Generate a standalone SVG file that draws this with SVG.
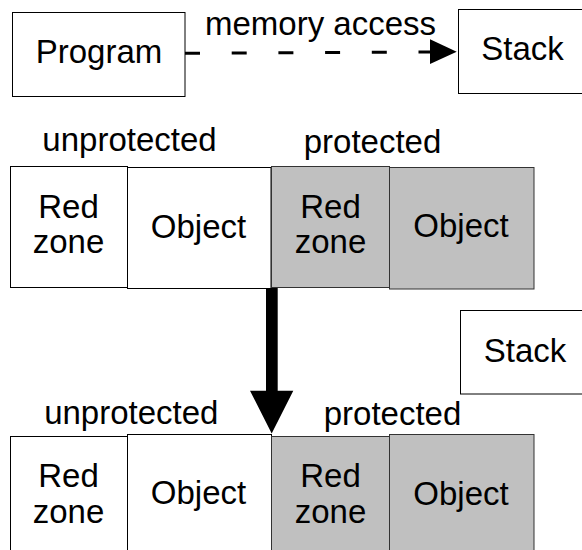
<svg xmlns="http://www.w3.org/2000/svg" width="582" height="550" viewBox="0 0 582 550">
  <style>
    .box { fill: #ffffff; stroke: #000000; stroke-width: 1; }
    .prot { fill: #c0c0c0; stroke: #333333; stroke-width: 1; }
    text { font-family: "Liberation Sans", Arial, sans-serif; font-size: 33px; fill: #000000; text-anchor: middle; }
    .dash { stroke: #000000; stroke-width: 3; stroke-dasharray: 15 31.7; fill: none; }
  </style>
  <rect width="582" height="550" fill="#ffffff"/>

  <!-- top: program accesses the stack -->
  <g id="program">
    <rect class="box" x="12.5" y="12.5" width="172.5" height="84"/>
    <text x="99" y="63">Program</text>
  </g>
  <g id="stack-top">
    <rect class="box" x="458.5" y="9.5" width="131" height="84"/>
    <text x="522.5" y="60">Stack</text>
  </g>

  <!-- memory layout before -->
  <g id="labels-before">
    <text x="129.5" y="151">unprotected</text>
    <text x="372.5" y="153">protected</text>
  </g>
  <g id="redzone-1">
    <rect class="box" x="10.5" y="166.5" width="117" height="121"/>
    <text x="68.5" y="218">Red</text>
    <text x="68.5" y="253">zone</text>
  </g>
  <g id="object-1">
    <rect class="box" x="127.5" y="167.5" width="143.5" height="121"/>
    <text x="198.5" y="238">Object</text>
  </g>
  <g id="redzone-2">
    <rect class="prot" x="271.5" y="166.5" width="118" height="121"/>
    <text x="330.5" y="218">Red</text>
    <text x="330.5" y="253">zone</text>
  </g>
  <g id="object-2">
    <rect class="prot" x="389.5" y="167.5" width="144.5" height="121.5"/>
    <text x="461" y="237">Object</text>
  </g>

  <g id="stack-mid">
    <rect class="box" x="460.5" y="310.5" width="129" height="83.5"/>
    <text x="525" y="362">Stack</text>
  </g>

  <!-- memory layout after -->
  <g id="labels-after">
    <text x="131.3" y="423.5">unprotected</text>
    <text x="392.5" y="425">protected</text>
  </g>
  <g id="redzone-3">
    <rect class="box" x="10.5" y="436.5" width="117" height="130"/>
    <text x="68.5" y="487">Red</text>
    <text x="68.5" y="523">zone</text>
  </g>
  <g id="object-3">
    <rect class="box" x="127.5" y="434.5" width="144" height="130"/>
    <text x="198.5" y="504">Object</text>
  </g>
  <g id="redzone-4">
    <rect class="prot" x="271.5" y="436.5" width="118" height="130"/>
    <text x="330.5" y="487">Red</text>
    <text x="330.5" y="523">zone</text>
  </g>
  <g id="object-4">
    <rect class="prot" x="389.5" y="434.5" width="144.5" height="130"/>
    <text x="461" y="505">Object</text>
  </g>

  <!-- connectors -->
  <g id="connectors">
    <line class="dash" x1="185" y1="53.3" x2="432" y2="52"/>
    <polygon points="430,39.3 456.7,51.7 430,64" fill="#000000"/>
    <text x="320.5" y="35">memory access</text>
    <path d="M266,288 H277.7 V390.7 H293.3 L271.7,433.5 L250,390.7 H266 Z" fill="#000000"/>
  </g>
</svg>
